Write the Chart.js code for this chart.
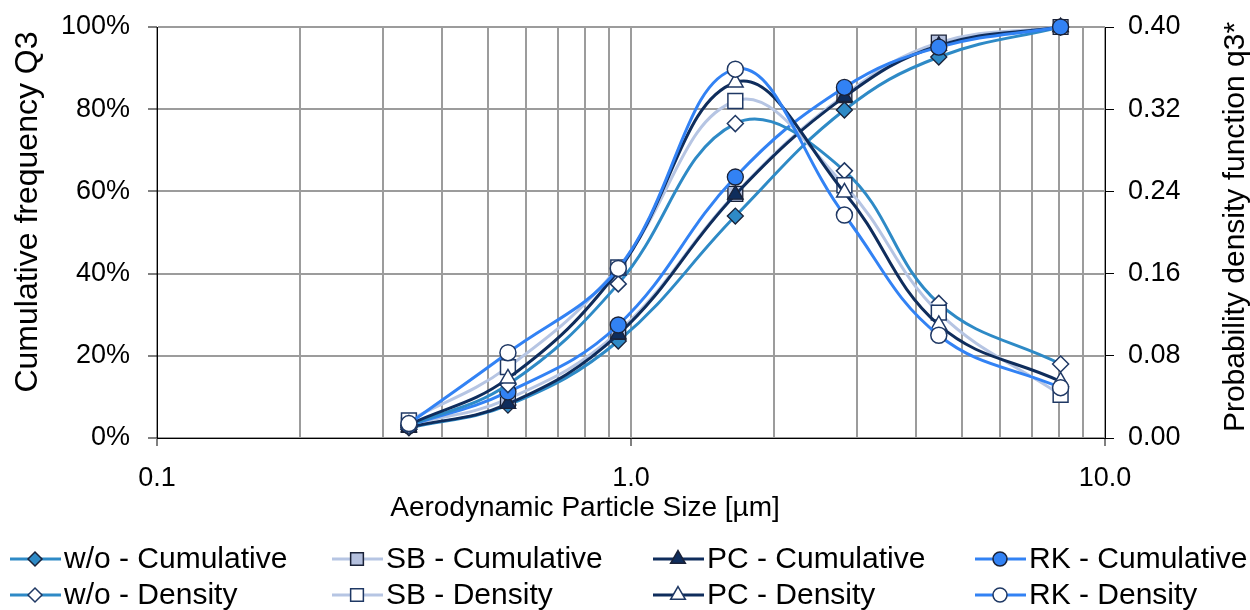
<!DOCTYPE html>
<html>
<head>
<meta charset="utf-8">
<script src="https://cdn.jsdelivr.net/npm/chart.js"></script>
<style>
  body { margin: 0; background: #fff; }
  .wrap { width: 1250px; height: 610px; }
</style>
</head>
<body>
<div class="wrap"><canvas id="psd"></canvas></div>
<script>
// NGI stage cut-off diameters (µm)
const sizes = [0.34, 0.55, 0.94, 1.66, 2.82, 4.46, 8.06];

// cumulative frequency Q3 (%)
const cumWo = [2.5, 8.0, 23.6, 54.0, 79.8, 92.7, 100];
const cumSB = [3.2, 9.5, 25.8, 59.4, 83.4, 96.2, 100];
const cumPC = [2.6, 8.3, 25.2, 59.2, 83.0, 95.5, 100];
const cumRK = [3.0, 11.2, 27.5, 63.5, 85.3, 95.1, 100];

// probability density q3*
const denWo = [0.012, 0.052, 0.150, 0.306, 0.260, 0.131, 0.072];
const denSB = [0.017, 0.069, 0.166, 0.328, 0.246, 0.122, 0.042];
const denPC = [0.013, 0.058, 0.163, 0.346, 0.239, 0.110, 0.055];
const denRK = [0.014, 0.083, 0.165, 0.359, 0.217, 0.100, 0.049];

const xGrid = [0.1, 0.2, 0.3, 0.4, 0.5, 0.6, 0.7, 0.8, 0.9,
               1, 2, 3, 4, 5, 6, 7, 8, 9, 10];
const xMajor = [0.1, 1, 10];
const xMajorLabels = ['0.1', '1.0', '10.0'];
const yTicks = [0, 20, 40, 60, 80, 100];
const y2Ticks = [0, 0.08, 0.16, 0.24, 0.32, 0.40];

const FONT = '"Liberation Sans", Arial, sans-serif';
const GRID = '#9c9c9c';
const EDGE = '#1f3864';

const groups = [
  { name: 'w/o', color: '#2e8ac6', fill: '#2e8ac6', style: 'rectRot', r: 8, lr: 7, cum: cumWo, den: denWo },
  { name: 'SB',  color: '#b6c5e3', fill: '#b4c0de', style: 'rect',    r: 10.5, lr: 9, cum: cumSB, den: denSB },
  { name: 'PC',  color: '#0f2d5c', fill: '#0f2d5c', style: 'triangle', r: 9, lr: 8.5, cum: cumPC, den: denPC },
  { name: 'RK',  color: '#3282f4', fill: '#3282f4', style: 'circle',  r: 8, lr: 7, cum: cumRK, den: denRK }
];

function pts(vals) {
  return sizes.map((s, i) => ({ x: s, y: vals[i] }));
}

const datasets = [];
groups.forEach((g, i) => {
  datasets.push({
    label: g.name + ' - Cumulative',
    data: pts(g.cum),
    yAxisID: 'y',
    order: 8 - i,
    borderColor: g.color,
    borderWidth: 3,
    tension: 0.4,
    pointStyle: g.style,
    pointRadius: g.r,
    pointBackgroundColor: g.fill,
    pointBorderColor: '#1a2238',
    pointBorderWidth: 1.3,
    clip: false
  });
  datasets.push({
    label: g.name + ' - Density',
    data: pts(g.den),
    yAxisID: 'y2',
    order: 4 - i,
    borderColor: g.color,
    borderWidth: 3,
    tension: 0.4,
    pointStyle: g.style,
    pointRadius: g.r,
    pointBackgroundColor: '#ffffff',
    pointBorderColor: EDGE,
    pointBorderWidth: 1.5,
    clip: false
  });
});

// titles and the two-row legend are drawn by hand
const extras = {
  id: 'extras',
  afterDraw(chart) {
    const ctx = chart.ctx;
    ctx.save();
    ctx.fillStyle = '#000';
    ctx.textBaseline = 'middle';
    ctx.textAlign = 'center';
    ctx.font = '28px ' + FONT;
    ctx.fillText('Aerodynamic Particle Size [µm]', 585, 508);

    ctx.save();
    ctx.translate(28, 212);
    ctx.rotate(-Math.PI / 2);
    ctx.font = '32px ' + FONT;
    ctx.fillText('Cumulative frequency Q3', 0, 0);
    ctx.restore();

    ctx.save();
    ctx.translate(1236, 227);
    ctx.rotate(-Math.PI / 2);
    ctx.font = '30px ' + FONT;
    ctx.fillText('Probability density function q3*', 0, 0);
    ctx.restore();

    const colX = [10, 332, 653, 975];
    const rowY = [559, 595];
    ctx.font = '30px ' + FONT;
    ctx.textAlign = 'left';
    groups.forEach((g, c) => {
      ['Cumulative', 'Density'].forEach((kind, r) => {
        const x = colX[c], y = rowY[r];
        ctx.strokeStyle = g.color;
        ctx.lineWidth = 3;
        ctx.beginPath();
        ctx.moveTo(x, y);
        ctx.lineTo(x + 51, y);
        ctx.stroke();
        ctx.fillStyle = r === 0 ? g.fill : '#ffffff';
        ctx.strokeStyle = r === 0 ? '#1a2238' : EDGE;
        ctx.lineWidth = 1.5;
        Chart.helpers.drawPoint(ctx, { pointStyle: g.style, radius: g.lr, borderWidth: 1.5, rotation: 0 }, x + 25, y);
        ctx.fillStyle = '#000';
        ctx.fillText(g.name + ' - ' + kind, x + 54, y + 1);
      });
    });
    ctx.restore();
  }
};

function noEdgePad(s) {
  s.paddingTop = 0;
  s.paddingBottom = 0;
}

new Chart(document.getElementById('psd'), {
  type: 'line',
  data: { datasets },
  options: {
    responsive: true,
    maintainAspectRatio: false,
    animation: false,
    layout: { padding: { top: 27, right: 0, bottom: 0, left: 0 } },
    plugins: { legend: { display: false }, tooltip: { enabled: false } },
    scales: {
      x: {
        type: 'logarithmic',
        min: 0.1,
        max: 10,
        afterBuildTicks: s => { s.ticks = xGrid.map(v => ({ value: v })); },
        afterFit: s => { s.height = 172; s.paddingLeft = 0; s.paddingRight = 0; },
        border: { display: true, color: '#000', width: 1 },
        grid: {
          color: GRID,
          lineWidth: 2,
          drawTicks: true,
          tickLength: 8,
          tickWidth: 1,
          tickColor: c => xMajor.includes(c.tick.value) ? '#000' : 'rgba(0,0,0,0)'
        },
        ticks: {
          autoSkip: false,
          maxRotation: 0,
          padding: 16,
          color: '#000',
          font: { family: FONT, size: 27 },
          callback: v => {
            const k = xMajor.indexOf(v);
            return k >= 0 ? xMajorLabels[k] : '';
          }
        }
      },
      y: {
        position: 'left',
        min: 0,
        max: 100,
        afterBuildTicks: s => { s.ticks = yTicks.map(v => ({ value: v })); },
        afterFit: s => { s.width = 157; noEdgePad(s); },
        border: { display: true, color: '#000', width: 1 },
        grid: { color: GRID, lineWidth: 2, tickLength: 9, tickWidth: 1, tickColor: '#000' },
        ticks: {
          padding: 18,
          color: '#000',
          font: { family: FONT, size: 27 },
          callback: v => v + '%'
        }
      },
      y2: {
        position: 'right',
        min: 0,
        max: 0.4,
        afterBuildTicks: s => { s.ticks = y2Ticks.map(v => ({ value: v })); },
        afterFit: s => { s.width = 145; noEdgePad(s); },
        border: { display: true, color: '#000', width: 1 },
        grid: { drawOnChartArea: false, tickLength: 9, tickWidth: 1, tickColor: '#000' },
        ticks: {
          padding: 14,
          color: '#000',
          font: { family: FONT, size: 27 },
          callback: v => v.toFixed(2)
        }
      }
    }
  },
  plugins: [extras]
});
</script>
</body>
</html>
